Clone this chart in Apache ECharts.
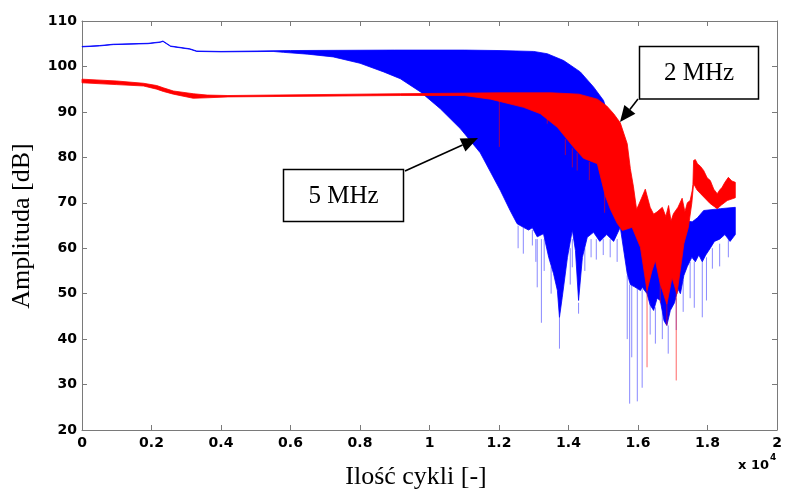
<!DOCTYPE html>
<html><head><meta charset="utf-8">
<script src="https://cdn.jsdelivr.net/npm/echarts@6/dist/echarts.min.js"></script>
<style>html,body{margin:0;padding:0;background:#fff}#c{width:785px;height:493px}</style>
</head><body><div id="c"></div>
<script>
// ---- tick labels ----
const xTickLabels = ['0','0.2','0.4','0.6','0.8','1','1.2','1.4','1.6','1.8','2'];
const yTickLabels = ['20','30','40','50','60','70','80','90','100','110'];

// ---- 5 MHz (blue) envelope: upper edge ----
const blueUpperX = [0,500,900,1900,2250,2330,2450,2550,3100,3300,4000,6000,9000,11000,12000,13000,13390,13860,14340,14720,15010,15300,15550,15700,15900,16500,17000,17400,17560,17710,17890,18370,18800];
const blueUpperY = [104.4,104.6,104.9,105.1,105.4,105.6,105.0,104.5,103.9,103.4,103.3,103.5,103.6,103.6,103.5,103.3,102.8,101.3,98.8,95.5,92.5,85,72,68,66,66,66,66,65.8,66.7,68.3,68.7,69.0];
// ---- 5 MHz (blue) envelope: lower edge ----
const blueLowerX = [0,500,900,1900,2250,2330,2450,2550,3100,3300,4000,5500,5800,6500,7230,8000,8680,9160,9740,10310,10890,11460,12040,12320,12520,12700,12850,12960,13100,13280,13430,13570,13680,13740,13820,13970,14110,14200,14290,14400,14540,14720,14900,15100,15300,15490,15690,15780,15900,16070,16120,16260,16350,16450,16550,16640,16750,16830,16930,17050,17150,17220,17320,17420,17550,17650,17750,17850,17950,18080,18200,18350,18500,18650,18800];
const blueLowerY = [104.3,104.5,104.8,105.0,105.3,105.5,104.9,104.4,103.8,103.3,103.2,103.3,103.1,102.7,102.1,100.7,98.8,97.3,94.4,90.7,86.3,81.0,72.7,68.3,65.4,64.6,64.0,64.5,62.5,63.2,58.0,54.4,50.7,44.8,49.2,58.0,64.0,59.5,48.5,58.0,62.4,63.5,61.5,63.0,61.5,64.6,54.4,52.0,51.5,50.7,51.4,50.0,47.5,46.3,49.0,48.5,44.0,43.0,46.3,48.0,51.0,50.0,54.0,56.0,58.0,57.0,58.5,57.0,58.5,60.0,61.5,62.0,63.0,61.5,63.0];
// ---- 5 MHz spikes: x, base, tip ----
const blueSpikeX    = [12550,12700,12960,13060,13100,13220,13300,13500,13740,14050,14110,14290,14470,14650,14800,15000,15200,15400,15690,15760,15820,15980,16120,16350,16500,16700,16870,17100,17300,17500,17620,17850,17970,18140,18350,18600];
const blueSpikeBase = [65,64.6,64,62,62,62,62,56,45,60,62,48,60,62,62,62,62,62,54,52,52,51,51,48,47,46,43,49,53,57,57,57,58,60,61,62];
const blueSpikeTip  = [60,58.8,60.6,57,51.4,43.6,55,50,37.9,52,55.8,45.6,55,58,57.5,58.5,58,57,40,25.8,36,26.3,29.3,41,39,40,36.8,42,46,49,46.9,44.8,48.5,55.5,56,58];

// ---- 2 MHz (red) envelope ----
const redUpperX = [0,1000,1770,2150,2340,2630,3200,3600,4200,9160,12000,13500,14300,14830,15100,15300,15490,15690,15780,15870,15960,16100,16210,16350,16450,16550,16700,16800,16880,16950,17020,17150,17270,17350,17420,17500,17560,17580,17600,17650,17710,17800,17890,17990,18080,18180,18280,18350,18420,18500,18600,18700,18800];
const redUpperY = [97.2,96.8,96.3,95.8,95.3,94.6,94.0,93.7,93.6,94.0,94.2,94.2,93.9,92.8,91.3,89.6,87.6,83.0,77.5,73.5,68.5,71.0,73.0,69.0,67.5,68.0,69.0,67.0,69.4,66.0,67.6,69.0,71.0,68.0,70.0,70.5,72.7,74.0,79.3,79.5,78.6,78.0,77.1,75.5,74.9,73.0,72.0,72.8,73.4,74.5,75.6,74.8,74.5];
const redLowerX = [0,1000,1770,2150,2340,2630,3200,3600,4200,9160,11000,11760,12710,13190,13680,14150,14430,14830,15060,15210,15400,15550,15830,16070,16260,16400,16500,16640,16830,16980,17120,17250,17320,17450,17550,17600,17700,17800,18080,18280,18400,18570,18800];
const redLowerY = [96.4,96.0,95.7,95.0,94.5,93.9,93.0,93.1,93.3,93.6,93.6,92.8,91.0,89.6,86.6,82.2,79.8,78.6,71.5,68.5,65.5,63.9,64.6,60.2,50.7,55.0,57.3,52.2,47.7,53.5,50.0,57.0,61.0,64.6,70.0,74.2,72.8,72.0,69.8,68.7,69.5,70.5,71.1];
const redSpikeX    = [12010,13390,13910,14110,14250,14600,15040,16260,16640,16830,17100];
const redSpikeBase = [93.0,89.5,84,82,81,79,75,52,53,48,52];
const redSpikeTip  = [82.3,87.4,80.5,77.8,77.1,75.0,67.8,33.8,48,43,30.9];

// ---------------------------------------------------------------
function bandSeries(name, ux, uy, lx, ly, color, z) {
  return {
    type: 'custom', name: name, z: z, silent: true,
    coordinateSystem: 'cartesian2d', xAxisIndex: 0, yAxisIndex: 0,
    data: [[ux[0], uy[0]]], encode: {x: 0, y: 1},
    renderItem: function (params, api) {
      const pts = [];
      for (let i = 0; i < ux.length; i++) pts.push(api.coord([ux[i], uy[i]]));
      for (let i = lx.length - 1; i >= 0; i--) pts.push(api.coord([lx[i], ly[i]]));
      return {type: 'polygon', shape: {points: pts}, style: {fill: color, stroke: color, lineWidth: 0.8}};
    }
  };
}
function spikeSeries(name, xs, base, tip, color, z) {
  const data = xs.map((x, i) => [x, base[i], tip[i]]);
  return {
    type: 'custom', name: name, z: z, silent: true,
    coordinateSystem: 'cartesian2d', xAxisIndex: 0, yAxisIndex: 0,
    data: data, encode: {x: 0, y: [1, 2]},
    renderItem: function (params, api) {
      const a = api.coord([api.value(0), api.value(1)]);
      const b = api.coord([api.value(0), api.value(2)]);
      return {type: 'line', shape: {x1: a[0], y1: a[1], x2: b[0], y2: b[1]}, style: {stroke: color, lineWidth: 1}};
    }
  };
}
function arrow(x1, y1, x2, y2, L, W) {
  const dx = x2 - x1, dy = y2 - y1, len = Math.sqrt(dx * dx + dy * dy);
  const ux = dx / len, uy = dy / len, bx = x2 - ux * L, by = y2 - uy * L;
  const nx = -uy, ny = ux;
  return [
    {type: 'line', z: 100, shape: {x1: x1, y1: y1, x2: bx, y2: by}, style: {stroke: '#000', lineWidth: 1.6}},
    {type: 'polygon', z: 100, shape: {points: [[x2, y2], [bx + nx * W, by + ny * W], [bx - nx * W, by - ny * W]]}, style: {fill: '#000'}}
  ];
}

const axisGrey = '#7a7a7a';
const tickFont = {fontFamily: 'DejaVu Sans', fontWeight: 'bold', fontSize: 14, color: '#000'};
const serif = '"Liberation Serif", "Times New Roman", serif';

const chart = echarts.init(document.getElementById('c'), null, {renderer: 'canvas'});
chart.setOption({
  animation: false,
  backgroundColor: '#fff',
  grid: {left: 82, right: 8, top: 21, bottom: 63, show: false},
  xAxis: [{
    type: 'value', min: 0, max: 20000, interval: 2000, position: 'bottom',
    axisLine: {show: true, onZero: false, lineStyle: {color: axisGrey, width: 1}},
    axisTick: {show: true, inside: true, length: 5, lineStyle: {color: axisGrey}},
    axisLabel: Object.assign({margin: 6, formatter: v => xTickLabels[Math.round(v / 2000)]}, tickFont),
    splitLine: {show: false}
  }, {
    type: 'value', min: 0, max: 20000, interval: 2000, position: 'top',
    axisLine: {show: true, onZero: false, lineStyle: {color: axisGrey, width: 1}},
    axisTick: {show: true, inside: true, length: 5, lineStyle: {color: axisGrey}},
    axisLabel: {show: false}, splitLine: {show: false}
  }],
  yAxis: [{
    type: 'value', min: 20, max: 110, interval: 10, position: 'left',
    axisLine: {show: true, onZero: false, lineStyle: {color: axisGrey, width: 1}},
    axisTick: {show: true, inside: true, length: 5, lineStyle: {color: axisGrey}},
    axisLabel: Object.assign({margin: 5, formatter: v => yTickLabels[Math.round((v - 20) / 10)]}, tickFont),
    splitLine: {show: false}
  }, {
    type: 'value', min: 20, max: 110, interval: 10, position: 'right',
    axisLine: {show: true, onZero: false, lineStyle: {color: axisGrey, width: 1}},
    axisTick: {show: true, inside: true, length: 5, lineStyle: {color: axisGrey}},
    axisLabel: {show: false}, splitLine: {show: false}
  }],
  series: [
    bandSeries('5 MHz', blueUpperX, blueUpperY, blueLowerX, blueLowerY, '#0000ff', 2),
    spikeSeries('5 MHz spikes', blueSpikeX, blueSpikeBase, blueSpikeTip, 'rgba(40,40,255,0.55)', 3),
    bandSeries('2 MHz', redUpperX, redUpperY, redLowerX, redLowerY, '#ff0000', 4),
    spikeSeries('2 MHz spikes', redSpikeX, redSpikeBase, redSpikeTip, 'rgba(255,0,0,0.6)', 5)
  ],
  graphic: [].concat(
    [
      {type: 'text', z: 100, x: 22, y: 226, rotation: Math.PI / 2,
        style: {text: 'Amplituda [dB]', fontFamily: serif, fontSize: 26, fill: '#000', align: 'center', verticalAlign: 'middle', textAlign: 'center', textVerticalAlign: 'middle'}},
      {type: 'text', z: 100, x: 416, y: 477,
        style: {text: 'Ilość cykli [-]', fontFamily: serif, fontSize: 26, fill: '#000', align: 'center', verticalAlign: 'middle', textAlign: 'center', textVerticalAlign: 'middle'}},
      {type: 'text', z: 100, x: 769, y: 466,
        style: {text: 'x 10', fontFamily: 'DejaVu Sans', fontWeight: 'bold', fontSize: 13, fill: '#000', align: 'right', verticalAlign: 'middle', textAlign: 'right', textVerticalAlign: 'middle'}},
      {type: 'text', z: 100, x: 770, y: 458,
        style: {text: '4', fontFamily: 'DejaVu Sans', fontWeight: 'bold', fontSize: 9, fill: '#000', align: 'left', verticalAlign: 'middle', textAlign: 'left', textVerticalAlign: 'middle'}},
      {type: 'rect', z: 100, shape: {x: 283.5, y: 169.5, width: 120, height: 52}, style: {fill: '#fff', stroke: '#000', lineWidth: 1.5}},
      {type: 'text', z: 101, x: 343.5, y: 196,
        style: {text: '5 MHz', fontFamily: serif, fontSize: 25, fill: '#000', align: 'center', verticalAlign: 'middle', textAlign: 'center', textVerticalAlign: 'middle'}},
      {type: 'rect', z: 100, shape: {x: 639.5, y: 46.5, width: 119, height: 52.5}, style: {fill: '#fff', stroke: '#000', lineWidth: 1.5}},
      {type: 'text', z: 101, x: 699, y: 73,
        style: {text: '2 MHz', fontFamily: serif, fontSize: 25, fill: '#000', align: 'center', verticalAlign: 'middle', textAlign: 'center', textVerticalAlign: 'middle'}}
    ],
    arrow(405, 171, 478, 138, 17, 7),
    arrow(638, 99, 620, 122, 16, 7)
  )
});
</script>
</body></html>
